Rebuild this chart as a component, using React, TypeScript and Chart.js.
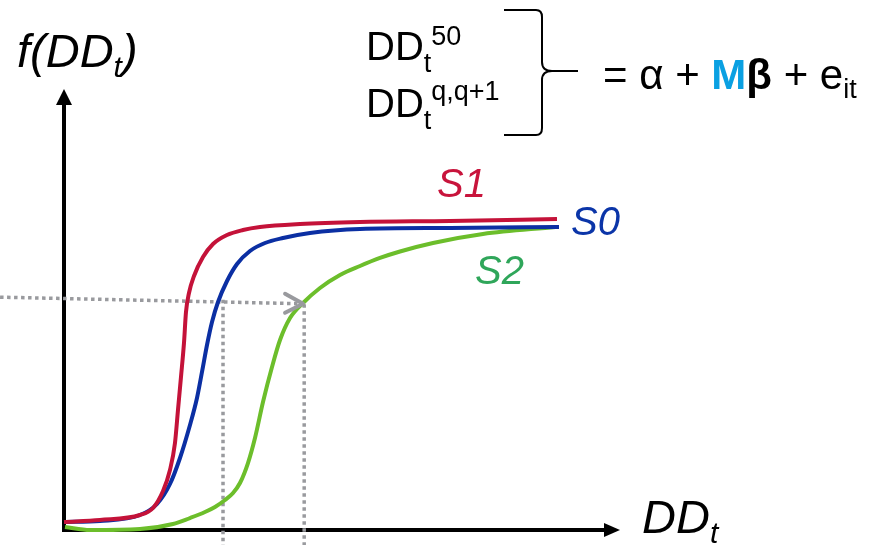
import React, { useEffect, useRef } from "react";
import { Chart, registerables } from "chart.js";
Chart.register(...registerables);

// Curve S1 (red)
const s1DD = [0, 6.47, 13.67, 16.01, 17.81, 19.06, 19.96, 20.5, 21.04, 21.58, 21.94, 22.48, 23.38, 25.0, 26.8, 29.32, 32.19, 35.25, 42.45, 53.24, 69.42, 88.67];
const s1F = [1.81, 2.27, 3.4, 4.99, 8.84, 13.61, 19.73, 27.21, 34.69, 42.4, 49.43, 53.74, 57.6, 61.9, 64.85, 66.89, 68.03, 68.71, 69.39, 69.84, 70.07, 70.52];
// Curve S0 (blue)
const s0DD = [0, 6.47, 13.67, 16.73, 19.06, 20.86, 22.66, 23.92, 24.82, 25.72, 26.62, 27.7, 29.32, 31.12, 33.45, 36.15, 39.39, 44.24, 53.24, 69.42, 89.03];
const s0F = [1.81, 2.04, 3.4, 5.9, 10.43, 16.33, 23.81, 29.93, 35.83, 41.95, 47.17, 51.7, 56.46, 60.32, 63.27, 65.08, 66.21, 67.35, 68.25, 68.48, 68.71];
// Curve S2 (green)
const s2DD = [0.18, 4.68, 13.67, 19.6, 22.66, 25.36, 27.16, 28.96, 30.4, 31.65, 33.09, 34.35, 35.79, 37.41, 38.85, 40.65, 42.99, 46.04, 49.64, 53.24, 56.83, 60.43, 66.37, 75.36, 88.31];
const s2F = [0.68, 0, 0.23, 1.36, 2.72, 4.08, 5.22, 6.8, 8.39, 10.66, 15.19, 20.86, 29.02, 36.96, 43.08, 48.07, 51.47, 54.88, 57.82, 59.86, 61.68, 63.15, 65.08, 67.12, 68.71];

// Guide lines (dotted)
const guideHDD = [-11.5, 43.0];
const guideHF = [52.8, 51.3];
const guideV1DD = [28.6, 28.6];
const guideV1F = [52.2, -3.4];
const guideV2DD = [43.2, 43.2];
const guideV2F = [51.2, -3.4];

const FONT = '"Liberation Sans", Arial, sans-serif';
const RED = "#C41239";
const BLUE = "#0B2FA3";
const GREEN = "#6CBE2B";
const GRAY = "#999A9E";

const pts = (xs: number[], ys: number[]) => xs.map((x, i) => ({ x, y: ys[i] }));

type Run = { t: string; size: number; dy?: number; style?: string; weight?: string; color?: string };

function drawRuns(ctx: CanvasRenderingContext2D, x: number, baseline: number, runs: Run[]) {
  let cx = x;
  for (const r of runs) {
    ctx.font = `${r.style || "normal"} ${r.weight || "normal"} ${r.size}px ${FONT}`;
    ctx.fillStyle = r.color || "#000";
    ctx.fillText(r.t, cx, baseline + (r.dy || 0));
    cx += ctx.measureText(r.t).width;
  }
}

const decorPlugin = {
  id: "decor",
  beforeDatasetsDraw(chart: any) {
    const { ctx, scales } = chart;
    const x = scales.x, y = scales.y;
    const ox = x.getPixelForValue(0), oy = y.getPixelForValue(0);
    const xt = x.getPixelForValue(100), yt = y.getPixelForValue(100);
    ctx.save();
    ctx.strokeStyle = "#000";
    ctx.fillStyle = "#000";
    ctx.lineWidth = 4;
    ctx.beginPath();
    ctx.moveTo(ox, oy + 2);
    ctx.lineTo(ox, yt + 14);
    ctx.moveTo(ox - 2, oy);
    ctx.lineTo(xt - 14, oy);
    ctx.stroke();
    ctx.beginPath();
    ctx.moveTo(ox, yt);
    ctx.lineTo(ox - 8, yt + 16);
    ctx.lineTo(ox + 8, yt + 16);
    ctx.closePath();
    ctx.fill();
    ctx.beginPath();
    ctx.moveTo(xt, oy);
    ctx.lineTo(xt - 16, oy - 7);
    ctx.lineTo(xt - 16, oy + 7);
    ctx.closePath();
    ctx.fill();
    ctx.restore();
  },
  afterDatasetsDraw(chart: any) {
    const { ctx, scales } = chart;
    const tx = scales.x.getPixelForValue(guideHDD[1]);
    const ty = scales.y.getPixelForValue(guideHF[1]);
    ctx.save();
    ctx.strokeStyle = GRAY;
    ctx.lineWidth = 4;
    ctx.lineCap = "round";
    ctx.lineJoin = "round";
    ctx.beginPath();
    ctx.moveTo(tx - 18, ty - 10);
    ctx.lineTo(tx, ty);
    ctx.lineTo(tx - 18, ty + 9);
    ctx.stroke();
    ctx.restore();
  },
  afterDraw(chart: any) {
    const { ctx } = chart;
    ctx.save();
    ctx.textBaseline = "alphabetic";
    // y-axis label
    drawRuns(ctx, 17, 67, [
      { t: "f(DD", size: 47, style: "italic" },
      { t: "t", size: 30, style: "italic", dy: 10 },
      { t: ")", size: 47, style: "italic" },
    ]);
    // x-axis label
    drawRuns(ctx, 642, 533, [
      { t: "DD", size: 47, style: "italic" },
      { t: "t", size: 30, style: "italic", dy: 10 },
    ]);
    // formula lines
    drawRuns(ctx, 366, 60, [
      { t: "DD", size: 40 },
      { t: "t", size: 27, dy: 12 },
      { t: "50", size: 27, dy: -15 },
    ]);
    drawRuns(ctx, 366, 117, [
      { t: "DD", size: 40 },
      { t: "t", size: 27, dy: 12 },
      { t: "q,q+1", size: 27, dy: -17 },
    ]);
    drawRuns(ctx, 603, 89, [
      { t: "= α + ", size: 42 },
      { t: "M", size: 42, weight: "bold", color: "#0AA0E2" },
      { t: "β", size: 42, weight: "bold" },
      { t: " + e", size: 42 },
      { t: "it", size: 27, dy: 9 },
    ]);
    // brace
    ctx.strokeStyle = "#000";
    ctx.lineWidth = 2;
    ctx.beginPath();
    ctx.moveTo(504, 10);
    ctx.lineTo(536, 10);
    ctx.quadraticCurveTo(542, 10, 542, 17);
    ctx.lineTo(542, 62);
    ctx.quadraticCurveTo(542, 71, 552, 71);
    ctx.lineTo(578, 71);
    ctx.moveTo(552, 71);
    ctx.quadraticCurveTo(542, 71, 542, 80);
    ctx.lineTo(542, 128);
    ctx.quadraticCurveTo(542, 135, 536, 135);
    ctx.lineTo(504, 135);
    ctx.stroke();
    // series labels
    drawRuns(ctx, 437, 197, [{ t: "S1", size: 40, style: "italic", color: "#C8143C" }]);
    drawRuns(ctx, 571, 235, [{ t: "S0", size: 40, style: "italic", color: "#0B35A8" }]);
    drawRuns(ctx, 475, 284, [{ t: "S2", size: 40, style: "italic", color: "#2FA65A" }]);
    ctx.restore();
  },
};

export default function App() {
  const ref = useRef<HTMLCanvasElement | null>(null);
  useEffect(() => {
    if (!ref.current) return;
    const curve = (label: string, data: any, color: string) => ({
      label,
      data,
      borderColor: color,
      borderWidth: 4,
      pointRadius: 0,
      cubicInterpolationMode: "monotone" as const,
      fill: false,
      order: 1,
      clip: false as any,
    });
    const guide = (label: string, data: any) => ({
      label,
      data,
      borderColor: GRAY,
      borderWidth: 3.5,
      borderDash: [3.5, 3.5],
      pointRadius: 0,
      tension: 0,
      fill: false,
      order: 2,
      clip: false as any,
    });
    const chart = new Chart(ref.current, {
      type: "line",
      data: {
        datasets: [
          guide("h", pts(guideHDD, guideHF)),
          guide("v1", pts(guideV1DD, guideV1F)),
          guide("v2", pts(guideV2DD, guideV2F)),
          curve("S1", pts(s1DD, s1F), RED),
          curve("S0", pts(s0DD, s0F), BLUE),
          curve("S2", pts(s2DD, s2F), GREEN),
        ],
      },
      options: {
        responsive: false,
        animation: false,
        devicePixelRatio: 1,
        layout: { padding: 0 },
        plugins: { legend: { display: false }, tooltip: { enabled: false }, title: { display: false } },
        scales: {
          x: { type: "linear", display: false, min: -64 / 5.56, max: (886 - 64) / 5.56 },
          y: { type: "linear", display: false, min: -15 / 4.41, max: 530 / 4.41 },
        },
      },
      plugins: [decorPlugin],
    });
    return () => chart.destroy();
  }, []);
  return (
    <div style={{ position: "fixed", left: 0, top: 0, width: 886, height: 545, background: "#fff" }}>
      <canvas ref={ref} width={886} height={545} style={{ display: "block" }} />
    </div>
  );
}
